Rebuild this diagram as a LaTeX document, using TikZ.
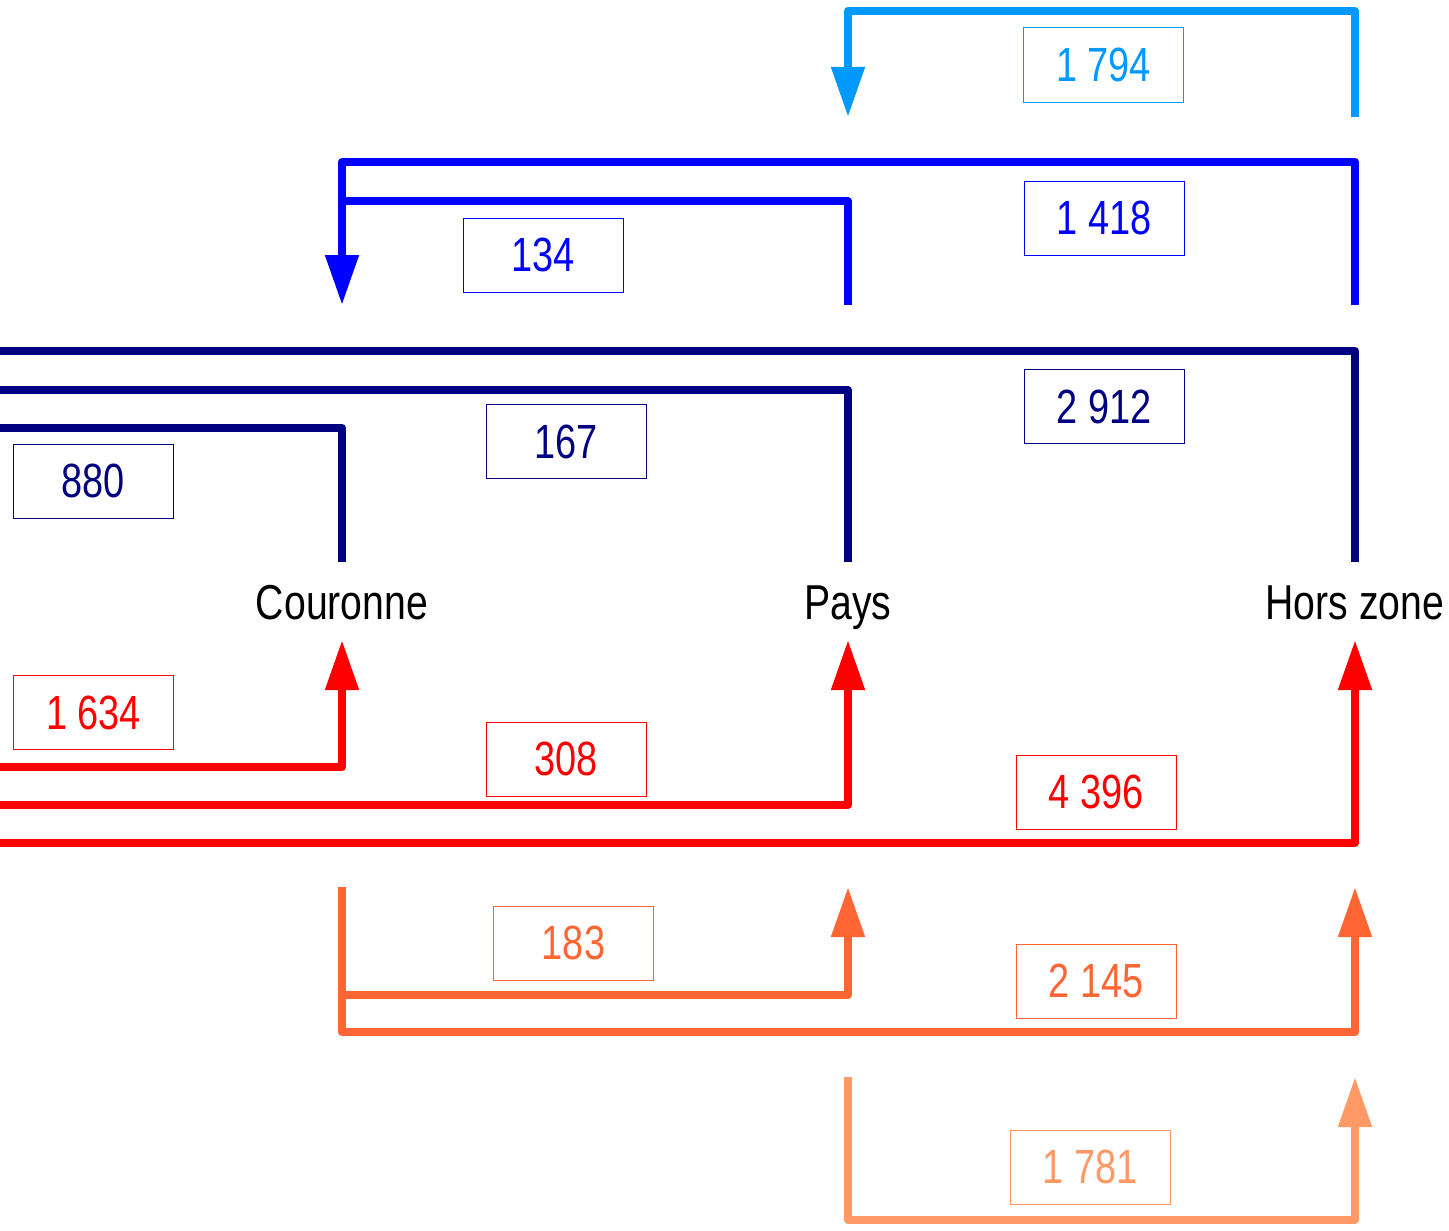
\documentclass[tikz,border=0pt]{standalone}
\usepackage{fontspec}
\setmainfont[FakeStretch=0.79]{Liberation Sans}
\newfontfamily\placefont[FakeStretch=0.80]{Liberation Sans}
\usetikzlibrary{arrows.meta}
\definecolor{cLightBlue}{HTML}{0099FF}
\definecolor{cBlue}{HTML}{0000FF}
\definecolor{cNavy}{HTML}{000080}
\definecolor{cRed}{HTML}{FF0000}
\definecolor{cCoral}{HTML}{FF6633}
\definecolor{cPeach}{HTML}{FF9966}
\tikzset{
 flow/.style={line width=8pt, line join=round, line cap=butt},
 tipped/.style={-{Triangle[width=32pt,length=50pt]}},
 lbl/.style={draw=#1, text=#1, fill=white, line width=1pt, minimum width=160pt, minimum height=74pt, inner sep=0pt, font=\fontsize{48}{56}\selectfont},
 place/.style={font=\placefont\fontsize{49}{58}\selectfont, inner sep=0pt, anchor=base}
}
\begin{document}
\begin{tikzpicture}[x=1pt,y=-1pt]
\useasboundingbox (0,0) rectangle (1449,1231);
% places
\node[place] (cour) at (342,619) {Couronne};
\node[place] (pays) at (848,619) {Pays};
\node[place] (hors) at (1355,619) {Hors zone};
% end points
\coordinate (cT) at (342,562); \coordinate (pT) at (848,562); \coordinate (hT) at (1355,562);
\coordinate (cB) at (342,640); \coordinate (pB) at (848,640); \coordinate (hB) at (1355,640);
\coordinate (cU) at (342,305); \coordinate (pU) at (848,305); \coordinate (hU) at (1355,305);
\coordinate (cD) at (342,887); \coordinate (pD) at (848,887); \coordinate (hD) at (1355,887);
\coordinate (pX) at (848,117); \coordinate (hX) at (1355,117);
\coordinate (pY) at (848,1077); \coordinate (hY) at (1355,1077);
% rows
\coordinate (rLB) at (0,11);
\coordinate (rB1) at (0,162); \coordinate (rB2) at (0,201);
\coordinate (rN1) at (0,351); \coordinate (rN2) at (0,390); \coordinate (rN3) at (0,428);
\coordinate (rR1) at (0,767); \coordinate (rR2) at (0,805); \coordinate (rR3) at (0,843);
\coordinate (rC1) at (0,995); \coordinate (rC2) at (0,1032);
\coordinate (rP) at (0,1220);
% flows
\draw[flow,cLightBlue,tipped] (hX) |- (rLB -| pX) -- (pX);
\draw[flow,cBlue] (pU) |- (rB2 -| cU);
\draw[flow,cBlue,tipped] (hU) |- (rB1 -| cU) -- (cU);
\draw[flow,cNavy] (hT) |- (rN1);
\draw[flow,cNavy] (pT) |- (rN2);
\draw[flow,cNavy] (cT) |- (rN3);
\draw[flow,cRed,tipped] (rR1) -| (cB);
\draw[flow,cRed,tipped] (rR2) -| (pB);
\draw[flow,cRed,tipped] (rR3) -| (hB);
\draw[flow,cCoral,tipped] (cD) |- (rC2 -| hD) -- (hD);
\draw[flow,cCoral,tipped] (rC1 -| cD) -| (pD);
\draw[flow,cPeach,tipped] (pY) |- (rP -| hY) -- (hY);
% labels
\node[lbl=cLightBlue] (v1794) at (1103.5,65) {1 794};
\node[lbl=cBlue] (v1418) at (1104,218) {1 418};
\node[lbl=cBlue] (v134) at (543,255) {134};
\node[lbl=cNavy] (v2912) at (1104,406.5) {2 912};
\node[lbl=cNavy] (v167) at (566,441.5) {167};
\node[lbl=cNavy] (v880) at (93,481) {880};
\node[lbl=cRed] (v1634) at (93.5,712.5) {1 634};
\node[lbl=cRed] (v308) at (566,759) {308};
\node[lbl=cRed] (v4396) at (1096,792) {4 396};
\node[lbl=cCoral] (v183) at (573.5,943) {183};
\node[lbl=cCoral] (v2145) at (1096,981) {2 145};
\node[lbl=cPeach] (v1781) at (1090,1167) {1 781};
\end{tikzpicture}
\end{document}
